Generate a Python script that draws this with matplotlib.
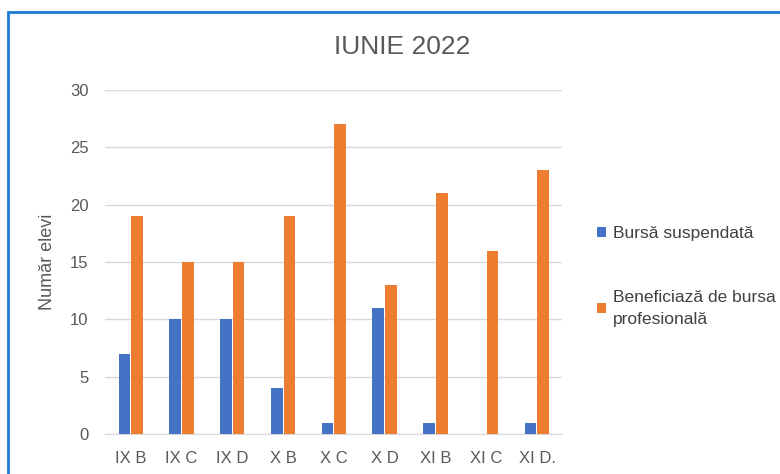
import matplotlib.pyplot as plt
import numpy as np
from matplotlib.patches import Rectangle

classes = ['IX B', 'IX C', 'IX D', 'X B', 'X C', 'X D', 'XI B', 'XI C', 'XI D.']
suspendata = [7, 10, 10, 4, 1, 11, 1, 0, 1]
beneficiaza = [19, 15, 15, 19, 27, 13, 21, 16, 23]

plt.rcParams['font.family'] = ['Liberation Sans', 'DejaVu Sans']

fig = plt.figure(figsize=(7.8, 4.74), dpi=100)
ax = fig.add_axes([0.135, 0.0844, 0.586, 0.7257])

x = np.arange(len(classes))
w = 0.23
ax.bar(x - 0.125, suspendata, w, color='#4472C4', label='Bursă suspendată', zorder=3)
ax.bar(x + 0.125, beneficiaza, w, color='#ED7D31', label='Beneficiază de bursa\nprofesională', zorder=3)

ax.set_xlim(-0.5, len(classes) - 0.5)
ax.set_ylim(0, 30)
ax.set_yticks(range(0, 31, 5))
ax.set_xticks(x)
ax.set_xticklabels(classes)
ax.grid(axis='y', color='#D9D9D9', linewidth=1, zorder=0)
for s in ['top', 'right', 'left']:
    ax.spines[s].set_visible(False)
ax.spines['bottom'].set_color('#D9D9D9')
ax.tick_params(length=0, colors='#595959', labelsize=12)
ax.tick_params(axis='x', pad=12)
ax.tick_params(axis='y', pad=12)
ax.set_ylabel('Număr elevi', color='#595959', fontsize=13, labelpad=10)

fig.text(0.515, 0.9, 'IUNIE 2022', ha='center', va='center', fontsize=19, color='#595959')

leg = fig.legend(loc='upper left', bbox_to_anchor=(597 / 780, 1 - 226 / 474), frameon=False,
                 fontsize=12.5, handlelength=0.5, handleheight=0.5, handletextpad=0.4,
                 labelspacing=2.8, borderpad=0, borderaxespad=0, labelcolor='#404040')
for t in leg.get_texts():
    t.set_linespacing(1.6)

fig.patches.append(Rectangle((8 / 780, -0.1), 1.2, 1 - 12 / 474 + 0.1, transform=fig.transFigure,
                             fill=False, edgecolor='#1B7BD5', linewidth=2))

fig.savefig('out.png', dpi=100)
